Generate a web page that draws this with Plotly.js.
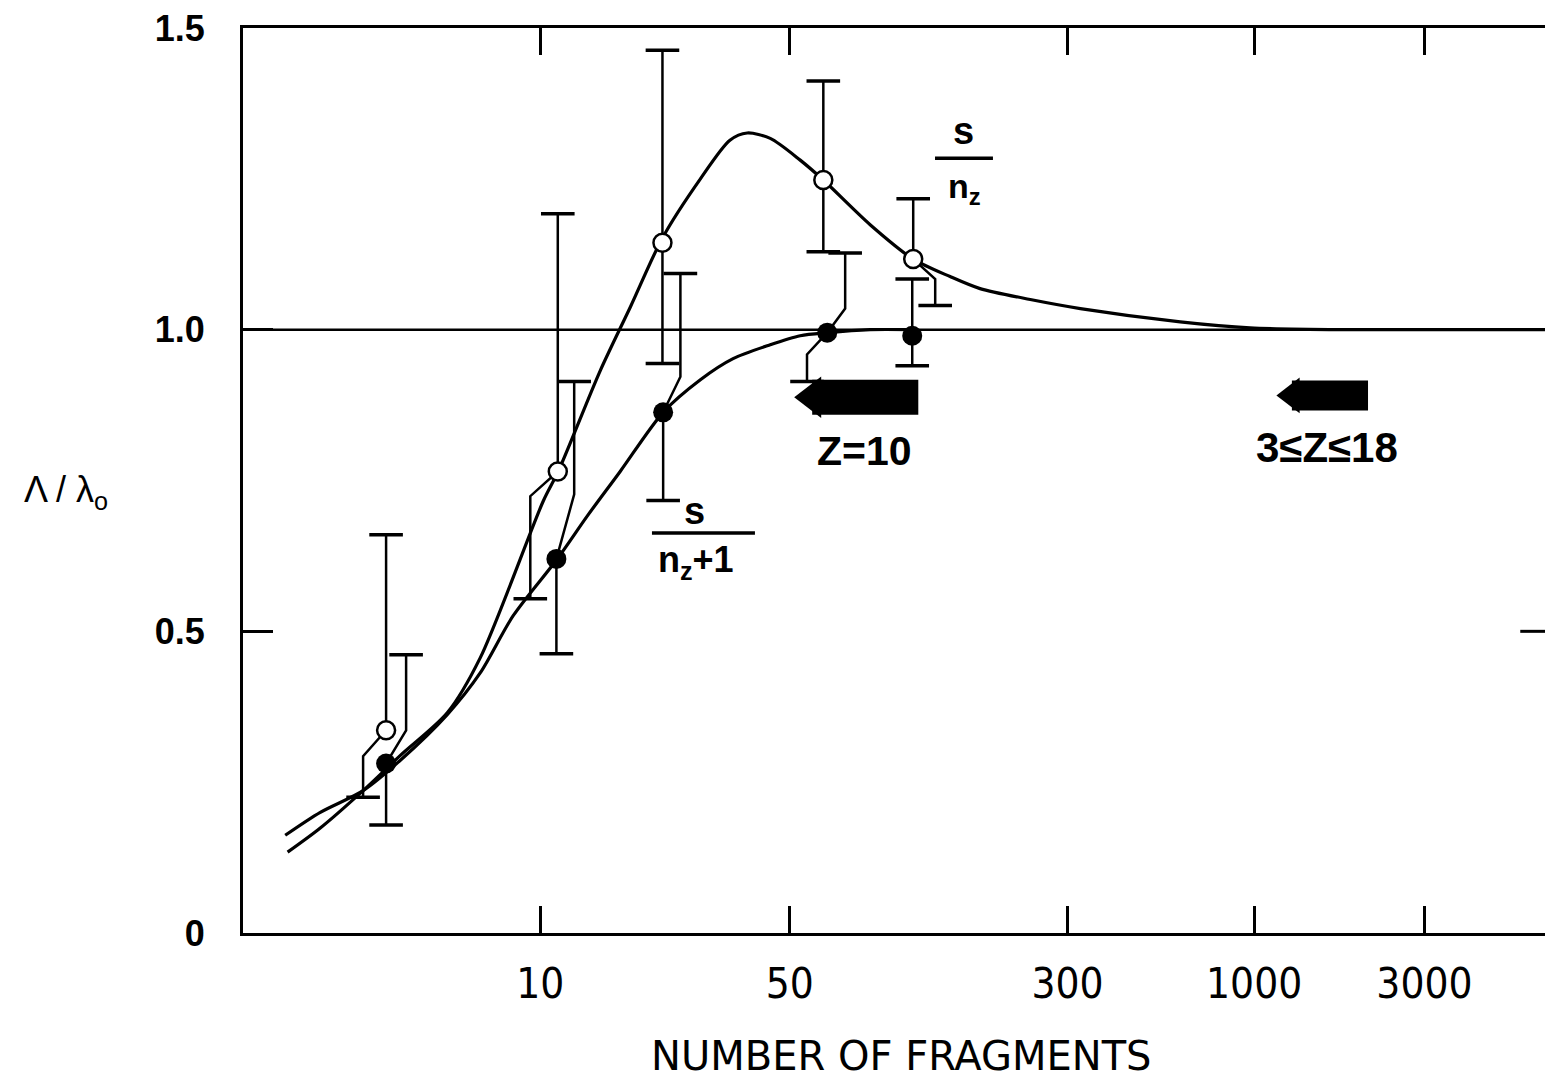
<!DOCTYPE html>
<html><head><meta charset="utf-8">
<script src="https://cdn.plot.ly/plotly-3.0.1.min.js"></script>
<style>html,body{margin:0;padding:0;background:#fff}#chart{width:1545px;height:1085px}</style>
</head><body><div id="chart"></div>
<script>
// ---------- data ----------
// open circles: s / n_z
const openN  = [3.7, 11.2, 22.0, 62.1, 110.9];
const openY  = [0.336, 0.765, 1.144, 1.248, 1.117];
const openHi = [0.660, 1.192, 1.463, 1.412, 1.217];
const openLo = [0.225, 0.554, 0.944, 1.129, 1.040];
// displaced (stepped) error-bar branches: kink point of the branch, null = straight
const openHiStepN = [null, null, null, null, null];
const openHiStepY = [null, null, null, null, null];
const openLoStepN = [3.19, 9.38, null, null, 127.8];
const openLoStepY = [0.293, 0.724, null, null, 1.084];

// filled circles: s / (n_z + 1)
const fillN  = [3.7, 11.1, 22.1, 63.7, 110.2];
const fillY  = [0.281, 0.620, 0.863, 0.995, 0.990];
const fillHi = [0.461, 0.914, 1.093, 1.127, 1.084];
const fillLo = [0.179, 0.463, 0.717, 0.914, 0.940];
const fillHiStepN = [4.21, 12.45, 24.7, 71.5, null];
const fillHiStepY = [0.336, 0.727, 0.922, 1.035, null];
const fillLoStepN = [null, null, null, 55.9, null];
const fillLoStepY = [null, null, null, 0.959, null];

// smooth curves
const curveOpenN = [1.96, 2.42, 3.19, 4.05, 5.49, 6.79, 10.2, 11.23, 14.7, 17.9, 22.0, 28.1, 34.0, 38.0, 44.1, 53.5, 62.1, 84.0, 110.9, 140.7, 170.7, 236, 326, 621, 974, 1858, 6530];
const curveOpenY = [0.134, 0.174, 0.236, 0.294, 0.365, 0.456, 0.716, 0.765, 0.931, 1.038, 1.152, 1.250, 1.314, 1.326, 1.317, 1.281, 1.248, 1.174, 1.117, 1.088, 1.068, 1.050, 1.035, 1.013, 1.003, 1.000, 1.000];
const curveFillN = [1.93, 2.42, 3.19, 4.05, 5.49, 6.79, 8.40, 11.16, 13.54, 16.75, 22.1, 28.1, 34.7, 44.1, 53.5, 63.7, 84.0, 110];
const curveFillY = [0.162, 0.200, 0.236, 0.286, 0.362, 0.431, 0.526, 0.620, 0.691, 0.765, 0.863, 0.917, 0.952, 0.975, 0.990, 0.995, 1.000, 1.000];

// limit arrows
const arrowTailN = [114.6, 2085];
const arrowNeckN = [57.8, 1276];
const arrowY     = [0.888, 0.891];
const arrowLabels = ['Z=10', '3\u2264Z\u226418'];

// axes
const xTickVals = [10, 50, 300, 1000, 3000];
const xTickText = ['10', '50', '300', '1000', '3000'];
const yTickVals = [0, 0.5, 1.0, 1.5];
const yTickText = ['0', '0.5', '1.0', '1.5'];
const xRangeN = [1.47, 6530];
const yRange = [0, 1.5];
const refLevel = 1.0;
const xTitle = 'NUMBER OF FRAGMENTS';
const yTitle = '\u039B / \u03BB<sub>o</sub>';

// ---------- build ----------
function bars(n, y, hi, lo, hsN, hsY, lsN, lsY) {
  const px = [], py = [], cx = [], cy = [];
  for (let i = 0; i < n.length; i++) {
    [[hi, hsN, hsY], [lo, lsN, lsY]].forEach(([end, sN, sY]) => {
      if (sN[i] !== null) {
        px.push(n[i], sN[i], sN[i], null); py.push(y[i], sY[i], end[i], null);
        cx.push(sN[i]); cy.push(end[i]);
      } else {
        px.push(n[i], n[i], null); py.push(y[i], end[i], null);
        cx.push(n[i]); cy.push(end[i]);
      }
    });
  }
  return {px, py, cx, cy};
}
const ob = bars(openN, openY, openHi, openLo, openHiStepN, openHiStepY, openLoStepN, openLoStepY);
const fb = bars(fillN, fillY, fillHi, fillLo, fillHiStepN, fillHiStepY, fillLoStepN, fillLoStepY);

const K = '#000';
const traces = [];
[ob, fb].forEach(b => {
  traces.push({x: b.px, y: b.py, mode: 'lines', line: {color: K, width: 2.5}, connectgaps: false, hoverinfo: 'skip'});
  traces.push({x: b.cx, y: b.cy, mode: 'markers', marker: {symbol: 'line-ew', size: 24, line: {color: K, width: 3.5}}, hoverinfo: 'skip'});
});
traces.push({x: curveOpenN, y: curveOpenY, mode: 'lines', line: {color: K, width: 3.2, shape: 'spline', smoothing: 0.8}});
traces.push({x: curveFillN, y: curveFillY, mode: 'lines', line: {color: K, width: 3.2, shape: 'spline', smoothing: 0.8}});
// arrows: thick body + triangular head
arrowTailN.forEach((t, i) => {
  traces.push({x: [arrowNeckN[i], t], y: [arrowY[i], arrowY[i]], mode: 'lines', line: {color: K, width: i === 0 ? 35 : 30}});
  traces.push({x: [arrowNeckN[i]], y: [arrowY[i]], mode: 'markers', marker: {symbol: 'triangle-left', size: i === 0 ? 36 : 31, color: K, line: {width: 0}}});
});
traces.push({x: fillN, y: fillY, mode: 'markers', marker: {symbol: 'circle', size: 20, color: K, line: {width: 0}}});
traces.push({x: openN, y: openY, mode: 'markers', marker: {symbol: 'circle', size: 18, color: '#fff', line: {color: K, width: 2.5}}});

const F = 'Liberation Sans, Arial, sans-serif';
const FN = 'DejaVu Sans Condensed, Liberation Sans, sans-serif';
const ann = (x, y, text, size, weight, family) => ({xref: 'paper', yref: 'paper', x, y, text, showarrow: false, xanchor: 'center', yanchor: 'middle', font: {family: family || F, size, color: K, weight: weight || 'normal'}});

const layout = {
  width: 1545, height: 1085,
  margin: {l: 243, r: 0, t: 28, b: 152},
  paper_bgcolor: '#fff', plot_bgcolor: '#fff',
  showlegend: false,
  xaxis: {
    type: 'log', range: xRangeN.map(Math.log10),
    tickvals: xTickVals, ticktext: xTickText,
    ticks: 'inside', ticklen: 27, tickwidth: 3, tickcolor: K,
    showline: true, linewidth: 3, linecolor: K, mirror: 'ticks',
    showgrid: false, zeroline: false,
    tickfont: {family: FN, size: 42, color: K},
    ticklabelstandoff: 12
  },
  yaxis: {
    range: yRange, tickvals: yTickVals, ticktext: yTickText,
    ticks: 'inside', ticklen: 30, tickwidth: 3, tickcolor: K,
    showline: true, linewidth: 3, linecolor: K, mirror: false,
    showgrid: false, zeroline: false,
    tickfont: {family: F, size: 36, color: K, weight: 'bold'},
    ticklabelstandoff: 28
  },
  shapes: [
    {type: 'line', xref: 'paper', yref: 'y', x0: 0, x1: 1, y0: refLevel, y1: refLevel, line: {color: K, width: 2.5}},
    {type: 'line', xref: 'paper', yref: 'y', x0: 0.981, x1: 1, y0: 0.5, y1: 0.5, line: {color: K, width: 3}},
    {type: 'line', xref: 'paper', yref: 'paper', x0: 0.5315, x1: 0.576, y0: 0.856, y1: 0.856, line: {color: K, width: 3.5}},
    {type: 'line', xref: 'paper', yref: 'paper', x0: 0.3141, x1: 0.3932, y0: 0.442, y1: 0.442, line: {color: K, width: 3.5}}
  ],
  annotations: [
    ann(0.553, 0.886, 's', 38, 'bold'),
    ann(0.5545, 0.823, 'n<sub>z</sub>', 34, 'bold'),
    ann(0.3464, 0.466, 's', 38, 'bold'),
    ann(0.3480, 0.410, 'n<sub>z</sub>+1', 36, 'bold'),
    ann(0.4777, 0.5326, arrowLabels[0], 41, 'bold'),
    ann(0.8326, 0.537, arrowLabels[1], 42, 'bold'),
    ann(-0.136, 0.487, yTitle, 36, 'normal'),
    ann(0.506, -0.136, xTitle, 40, 'normal', 'DejaVu Sans, sans-serif')
  ]
};

Plotly.newPlot('chart', traces, layout, {staticPlot: true, displayModeBar: false});
</script>
</body></html>
